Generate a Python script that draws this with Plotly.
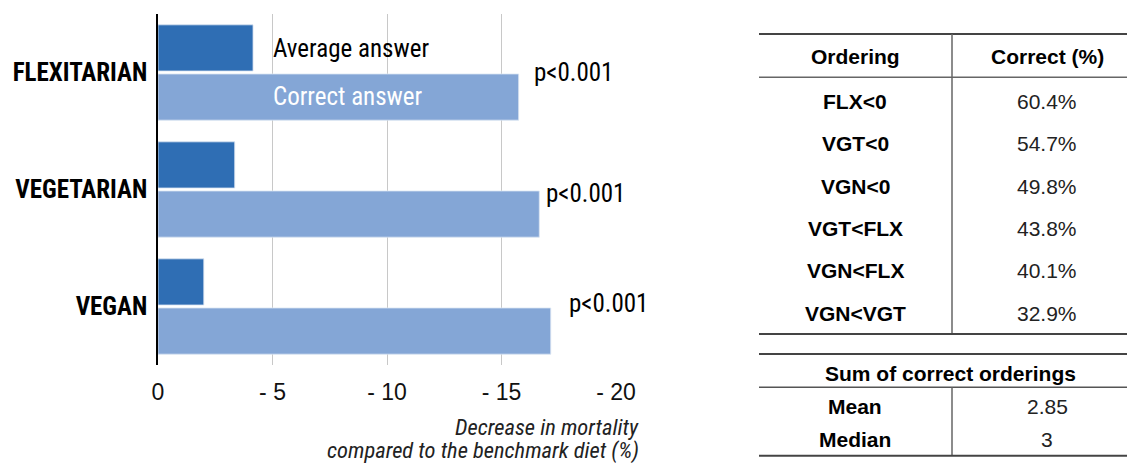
import plotly.graph_objects as go

# ---------------- data ----------------
categories = ["FLEXITARIAN", "VEGETARIAN", "VEGAN"]
average_answer = [-4.15, -3.35, -2.0]
correct_answer = [-15.75, -16.65, -17.15]
p_values = ["p<0.001", "p<0.001", "p<0.001"]
p_label_x = [-16.4, -16.95, -17.95]
x_tickvals = [0, -5, -10, -15, -20]
x_ticktext = ["0", "- 5", "- 10", "- 15", "- 20"]
x_title_lines = ["Decrease in mortality", "compared to the benchmark diet (%)"]

table_header = ["Ordering", "Correct (%)"]
ordering_labels = ["FLX<0", "VGT<0", "VGN<0", "VGT<FLX", "VGN<FLX", "VGN<VGT"]
ordering_correct = ["60.4%", "54.7%", "49.8%", "43.8%", "40.1%", "32.9%"]
summary_title = "Sum of correct orderings"
summary_labels = ["Mean", "Median"]
summary_values = ["2.85", "3"]

# ---------------- layout helpers ----------------
W, H = 1128, 463
PL, PR, PT, PB = 158, 616, 14, 365


def px(x):
    return (x - PL) / (PR - PL)


def py(y):
    return (PB - y) / (PB - PT)


COND = "Roboto Condensed, Liberation Sans Narrow, DejaVu Sans Condensed, Roboto, sans-serif"
HELV = "Liberation Sans, Arial, Helvetica, sans-serif"

DARK = "#2F6EB4"
LIGHT = "#84A6D6"

fig = go.Figure()
fig.add_trace(go.Bar(
    y=categories, x=average_answer, orientation="h", name="Average answer",
    marker=dict(color=DARK, line=dict(color="#dce6f3", width=0.8)),
    hoverinfo="skip",
))
fig.add_trace(go.Bar(
    y=categories, x=correct_answer, orientation="h", name="Correct answer",
    marker=dict(color=LIGHT, line=dict(color="#dce6f3", width=0.8)),
    hoverinfo="skip",
))

annotations = []
# in-bar labels
annotations.append(dict(x=-5, y=categories[0], xref="x", yref="y", text="Average answer",
                        showarrow=False, xanchor="left", yanchor="middle", yshift=24, xshift=-2,
                        font=dict(family=COND, size=25, color="black")))
annotations.append(dict(x=-5, y=categories[0], xref="x", yref="y", text="Correct answer",
                        showarrow=False, xanchor="left", yanchor="middle", yshift=-24, xshift=-2,
                        font=dict(family=COND, size=25, color="white")))
# p-values
p_shift = [0, -4, 3]
for c, t, xv, s in zip(categories, p_values, p_label_x, p_shift):
    annotations.append(dict(x=xv, y=c, xref="x", yref="y", text=t, showarrow=False,
                            xanchor="left", yanchor="middle", yshift=s, xshift=-2,
                            font=dict(family=COND, size=25, color="black")))
# axis title (two lines, right aligned)
for i, line in enumerate(x_title_lines):
    annotations.append(dict(x=px(641), y=py(427 + i * 23.5), xref="paper", yref="paper",
                            text="<i>%s</i>" % line,
                            showarrow=False, xanchor="right", yanchor="middle",
                            font=dict(family=COND, size=22.5, color="#222")))

# ---------------- table ----------------
TL, TR, TDIV = 759, 1127, 952
C1, C2 = 855, 1047
hdr_y = 56
row_y0, row_step = 101.4, 42.35
TFS = 21


def txt(x, y, text, bold=False, color="black"):
    t = text.replace("<", "&lt;")
    if bold:
        t = "<b>%s</b>" % t
    annotations.append(dict(x=px(x), y=py(y), xref="paper", yref="paper", text=t,
                            showarrow=False, xanchor="center", yanchor="middle",
                            font=dict(family=HELV, size=TFS, color=color)))


txt(C1, hdr_y, table_header[0], bold=True)
txt(C2, hdr_y, table_header[1], bold=True)
for i, (lab, val) in enumerate(zip(ordering_labels, ordering_correct)):
    yy = row_y0 + i * row_step
    txt(C1, yy, lab, bold=True)
    txt(C2, yy, val, color="#222")

txt(950, 373, summary_title, bold=True)
for i, (lab, val) in enumerate(zip(summary_labels, summary_values)):
    yy = 406.5 + i * 33
    txt(C1, yy, lab, bold=True)
    txt(C2, yy, val, color="#222")

shapes = []


def hline(y, w=2, color="#444"):
    shapes.append(dict(type="line", xref="paper", yref="paper", x0=px(TL), x1=px(TR), y0=py(y), y1=py(y),
                       line=dict(color=color, width=w)))


def vline(x, y0, y1, w=1.5, color="#666"):
    shapes.append(dict(type="line", xref="paper", yref="paper", x0=px(x), x1=px(x), y0=py(y0), y1=py(y1),
                       line=dict(color=color, width=w)))


hline(34)
hline(77.3, 1.5, "#666")
vline(TDIV, 34, 334)
hline(334)
hline(354)
hline(387.3, 1.5, "#555")
vline(TDIV, 387.3, 455.7)
hline(455.7)

fig.update_layout(
    width=W, height=H, autosize=False,
    margin=dict(l=PL, r=W - PR, t=PT, b=H - PB, pad=0),
    paper_bgcolor="white", plot_bgcolor="white",
    barmode="group", bargap=0.16, bargroupgap=0.06,
    showlegend=False,
    annotations=annotations, shapes=shapes,
    xaxis=dict(range=[0, -20], tickvals=x_tickvals, ticktext=x_ticktext,
               showgrid=True, gridcolor="#c8c8c8", gridwidth=1.3, zeroline=False,
               showline=False, ticks="", ticklabelstandoff=11, automargin=False,
               tickfont=dict(family=HELV, size=23, color="#111")),
    yaxis=dict(autorange="reversed", showgrid=False, zeroline=False,
               showline=True, linecolor="black", linewidth=1.5, ticks="",
               ticklabelstandoff=4, automargin=False,
               tickfont=dict(family=COND, size=25, color="black", weight=700)),
)

fig.write_html("out.html", config={"displayModeBar": False},
               post_script="document.body.style.margin='0px';")
